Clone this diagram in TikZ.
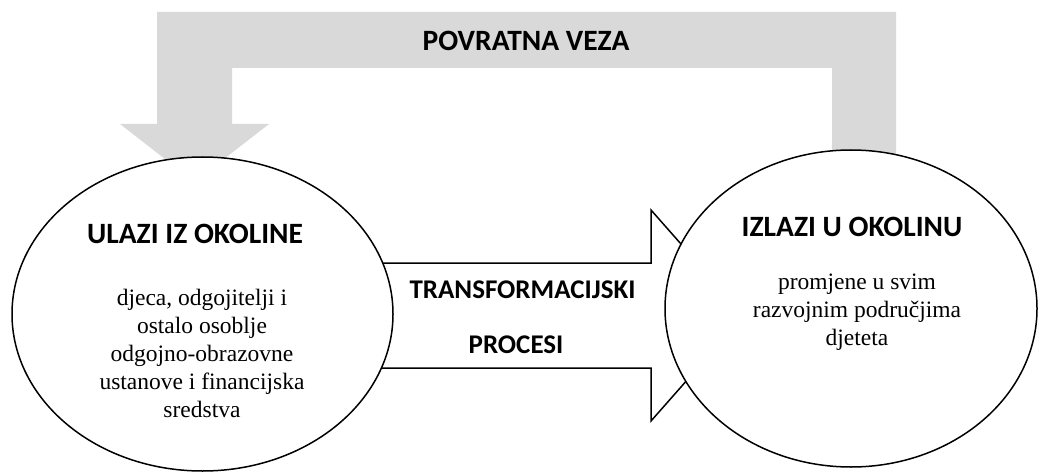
\documentclass[tikz,border=0pt]{standalone}
\usepackage{fontspec}
\setmainfont{Liberation Serif}
\newfontfamily\calfont{Carlito}
\usetikzlibrary{shapes.geometric}
\definecolor{fbgray}{HTML}{D9D9D9}
\tikzset{
  headtext/.style={font=\calfont\bfseries\fontsize{29.5}{34}\selectfont, inner sep=0pt},
  flowtext/.style={font=\calfont\bfseries\fontsize{27}{32}\selectfont, inner sep=0pt},
  bodytext/.style={font=\fontsize{23.5}{28}\selectfont, align=center, inner sep=0pt},
  bubble/.style={ellipse, draw=black, line width=1.5pt, fill=white, inner sep=0pt},
  flow/.style={draw=black, line width=1.5pt, fill=white, line join=miter},
}
\begin{document}
\begin{tikzpicture}[x=1pt,y=-1pt]
\useasboundingbox (0,0) rectangle (1040,473);
% feedback arrow
\fill[fbgray] (157,12) -- (896,12) -- (896,165) -- (832,165) -- (832,68) -- (232,68)
  -- (232,124) -- (269,124) -- (194.5,182) -- (120,124) -- (157,124) -- cycle;
\node[headtext] (fb) at (526,40.5) {POVRATNA VEZA};
% transformation arrow
\draw[flow] (370,263) -- (651,263) -- (651,210) -- (744,315.5) -- (651,421)
  -- (651,368) -- (370,368) -- cycle;
\node[flowtext] (tr1) at (522.5,290) {TRANSFORMACIJSKI};
\node[flowtext] (tr2) at (516,345) {PROCESI};
% ellipses
\node[bubble, minimum width=381pt, minimum height=314pt] (in) at (202.5,314) {};
\node[bubble, minimum width=372pt, minimum height=317pt] (out) at (851,308.5) {};
\node[headtext] (inT) at (195,233.5) {ULAZI IZ OKOLINE};
\node[bodytext] (inB) at (202,353) {djeca, odgojitelji i\\ostalo osoblje\\odgojno-obrazovne\\ustanove i financijska\\sredstva};
\node[headtext] (outT) at (852,227) {IZLAZI U OKOLINU};
\node[bodytext] (outB) at (857,312) {promjene u svim\\razvojnim područjima\\djeteta};
\end{tikzpicture}
\end{document}
